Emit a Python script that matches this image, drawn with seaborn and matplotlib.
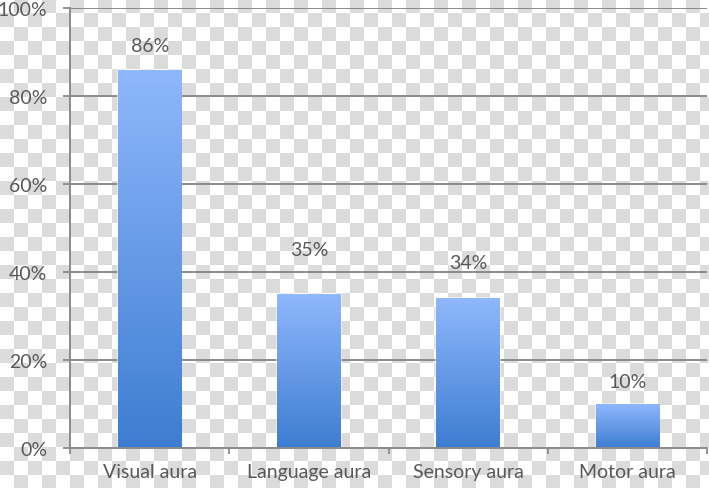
import numpy as np
import pandas as pd
import matplotlib
matplotlib.use("Agg")
import matplotlib.pyplot as plt
import seaborn as sns

categories = ["Visual aura", "Language aura", "Sensory aura", "Motor aura"]
values = [86, 35, 34, 10]
label_offsets_pt = [17, 32, 26, 16]
y_ticks = [0, 20, 40, 60, 80, 100]
y_tick_labels = ["0%", "20%", "40%", "60%", "80%", "100%"]

sns.set_theme(style="white")
plt.rcParams['font.family'] = ['Lato', 'DejaVu Sans']

W, H = 709, 489
fig = plt.figure(figsize=(W / 100, H / 100), dpi=100)
fig.patch.set_alpha(0)

# transparent-style checkerboard background
cell = 14
yy, xx = np.mgrid[0:H, 0:W]
checker = ((yy // cell + xx // cell) % 2).astype(float)
bg = np.where(checker[..., None] == 1, np.array([0.86, 0.86, 0.86]), np.array([1.0, 1.0, 1.0]))
fig.figimage(bg, xo=0, yo=0, origin='upper', zorder=-10)

ax = fig.add_axes([70 / W, 40 / H, 637 / W, 440 / H])
ax.set_zorder(5)
ax.set_facecolor('none')
ax.patch.set_alpha(0)

df = pd.DataFrame({"category": categories, "value": values})
sns.barplot(data=df, x="category", y="value", width=0.4, color="#5a93e6",
            ax=ax, zorder=3, saturation=1)

ax.set_ylim(0, 100)
ax.set_xlim(-0.5, len(categories) - 0.5)

# gradient fill on each bar
grad = np.linspace(0, 1, 256)[:, None]
top = np.array([0.56, 0.72, 0.99])
bot = np.array([0.24, 0.49, 0.82])
img = (top[None, None, :] * (1 - grad[..., None]) + bot[None, None, :] * grad[..., None])
for p in ax.patches:
    x0, y0 = p.get_x(), p.get_y()
    w, h = p.get_width(), p.get_height()
    im = ax.imshow(img, extent=[x0, x0 + w, y0, y0 + h], aspect='auto',
                   origin='upper', zorder=4)
    im.set_clip_path(p)
    p.set_edgecolor((1, 1, 1, 0.6))
    p.set_linewidth(1.2)

ax.set_xlim(-0.5, len(categories) - 0.5)
ax.set_ylim(0, 100)

# gridlines
for t in y_ticks[1:]:
    ax.axhline(t, color="#8a8a8a", lw=1.4, zorder=1, xmin=0, xmax=1)
ax.set_yticks(y_ticks)
ax.set_yticklabels(y_tick_labels)
ax.tick_params(axis='y', length=5, width=1.3, color="#8a8a8a", pad=11.5,
               labelsize=14, labelcolor="#595959", left=True)

ax.set_xticks(range(len(categories)))
ax.set_xticklabels(categories)
ax.set_xticks(np.arange(-0.5, len(categories), 1.0), minor=True)
ax.tick_params(axis='x', which='major', length=0, pad=11, labelsize=14, labelcolor="#595959")
ax.tick_params(axis='x', which='minor', length=4.3, width=1.3, color="#8a8a8a", bottom=True)

ax.set_xlabel("")
ax.set_ylabel("")
for s in ["top", "right"]:
    ax.spines[s].set_visible(False)
for s in ["left", "bottom"]:
    ax.spines[s].set_color("#8a8a8a")
    ax.spines[s].set_linewidth(1.4)
    ax.spines[s].set_zorder(5)

for i, (v, off) in enumerate(zip(values, label_offsets_pt)):
    ax.annotate(f"{v}%", (i, v), xytext=(0, off), textcoords="offset points",
                ha="center", va="center", fontsize=14, color="#595959", zorder=6)

fig.savefig("out.png", dpi=100)
